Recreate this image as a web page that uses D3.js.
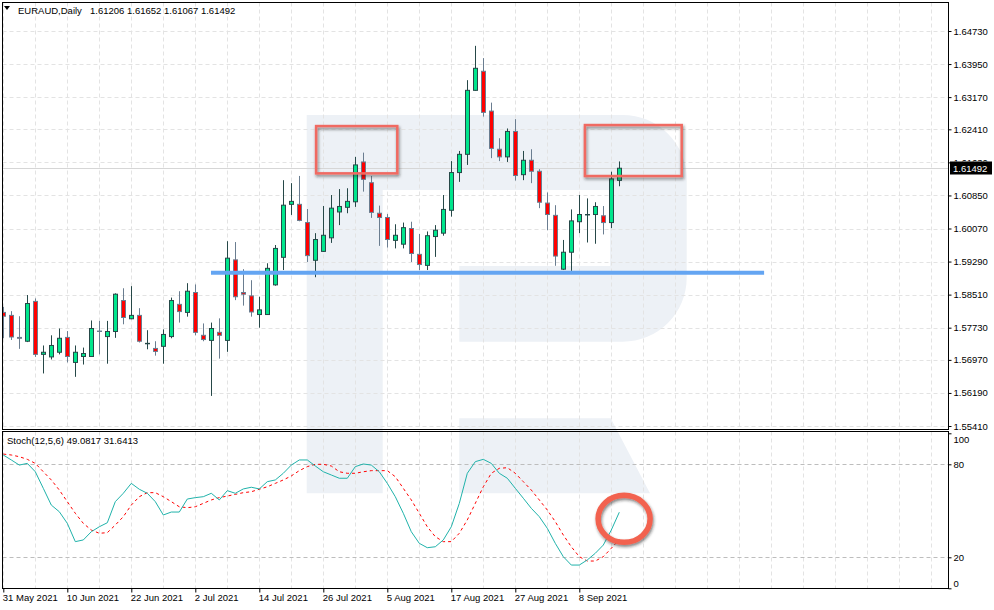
<!DOCTYPE html>
<html>
<head>
<meta charset="utf-8">
<script src="https://cdn.jsdelivr.net/npm/d3@7"></script>
<style>
  body { margin: 0; background: #fff; }
  svg text { font-family: "Liberation Sans", Arial, sans-serif; font-size: 9.5px; fill: #000; }
</style>
</head>
<body>
<svg id="chart" width="994" height="610"></svg>
<script>
// daily EURAUD bars, 31 May 2021 .. 15 Sep 2021
const opens = [1.5809, 1.5802, 1.5750, 1.5741, 1.5835, 1.5710, 1.5704, 1.5715, 1.5750, 1.5691,
  1.5705, 1.5705, 1.5765, 1.5752, 1.5764, 1.5837, 1.5794, 1.5802, 1.5735, 1.5724,
  1.5729, 1.5752, 1.5828, 1.5809, 1.5856, 1.5755, 1.5743, 1.5762, 1.5743, 1.5933,
  1.5856, 1.5848, 1.5804, 1.5804, 1.5874, 1.5939, 1.6064, 1.6064, 1.6021, 1.5932,
  1.5953, 1.5985, 1.6046, 1.6057, 1.6070, 1.6164, 1.6115, 1.6043, 1.6033, 1.5979,
  1.5970, 1.6007, 1.5946, 1.5920, 1.5988, 1.5996, 1.6050, 1.6139, 1.6182, 1.6333,
  1.6378, 1.6284, 1.6194, 1.6176, 1.6236, 1.6134, 1.6168, 1.6142, 1.6067, 1.6038,
  1.5911, 1.5951, 1.6023, 1.6039, 1.6040, 1.6037, 1.6021, 1.61206];
const highs = [1.5822, 1.5812, 1.5800, 1.5850, 1.5842, 1.5731, 1.5755, 1.5771, 1.5765, 1.5731,
  1.5726, 1.5790, 1.5789, 1.5789, 1.5854, 1.5866, 1.5871, 1.5819, 1.5767, 1.5741,
  1.5769, 1.5844, 1.5859, 1.5878, 1.5875, 1.5783, 1.5785, 1.5795, 1.5977, 1.5975,
  1.5911, 1.5885, 1.5846, 1.5925, 1.5968, 1.6121, 1.6114, 1.6131, 1.6053, 1.5996,
  1.6060, 1.6086, 1.6100, 1.6102, 1.6176, 1.6186, 1.6131, 1.6061, 1.6041, 1.6017,
  1.6021, 1.6023, 1.5994, 1.6000, 1.6015, 1.6086, 1.6166, 1.6190, 1.6357, 1.6438,
  1.6409, 1.6304, 1.6220, 1.6243, 1.6265, 1.6190, 1.6194, 1.6147, 1.6092, 1.6062,
  1.5980, 1.6052, 1.6086, 1.6078, 1.6069, 1.6060, 1.6141, 1.61652];
const lows = [1.5748, 1.5744, 1.5723, 1.5739, 1.5704, 1.5665, 1.5698, 1.5710, 1.5691, 1.5657,
  1.5686, 1.5704, 1.5710, 1.5688, 1.5749, 1.5781, 1.5793, 1.5738, 1.5722, 1.5707,
  1.5688, 1.5748, 1.5785, 1.5799, 1.5755, 1.5741, 1.5612, 1.5700, 1.5716, 1.5838,
  1.5825, 1.5799, 1.5773, 1.5803, 1.5872, 1.5909, 1.6039, 1.6024, 1.5928, 1.5892,
  1.5952, 1.5973, 1.6015, 1.6043, 1.6058, 1.6094, 1.6032, 1.5966, 1.5962, 1.5960,
  1.5960, 1.5928, 1.5909, 1.5909, 1.5940, 1.5990, 1.6035, 1.6117, 1.6157, 1.6332,
  1.6271, 1.6173, 1.6166, 1.6164, 1.6120, 1.6121, 1.6114, 1.6055, 1.6003, 1.5919,
  1.5909, 1.5907, 1.5996, 1.5974, 1.5971, 1.5993, 1.6008, 1.61067];
const closes = [1.5800, 1.5751, 1.5748, 1.5830, 1.5710, 1.5715, 1.5731, 1.5748, 1.5705, 1.5715,
  1.5712, 1.5771, 1.5764, 1.5764, 1.5852, 1.5797, 1.5802, 1.5741, 1.5736, 1.5717,
  1.5757, 1.5837, 1.5811, 1.5859, 1.5762, 1.5745, 1.5771, 1.5755, 1.5937, 1.5846,
  1.5852, 1.5810, 1.5815, 1.5913, 1.5960, 1.6062, 1.6071, 1.6026, 1.5943, 1.5981,
  1.5991, 1.6055, 1.6059, 1.6071, 1.6157, 1.6123, 1.6045, 1.6033, 1.5981, 1.5991,
  1.6009, 1.5948, 1.5922, 1.5990, 1.6003, 1.6052, 1.6139, 1.6182, 1.6333, 1.6385,
  1.6281, 1.6196, 1.6176, 1.6236, 1.6132, 1.6168, 1.6142, 1.6069, 1.6040, 1.5942,
  1.5951, 1.6025, 1.6040, 1.6040, 1.6059, 1.6021, 1.6124, 1.61492];

// Stochastic(12,5,6)
const stochMain = [86, 82.8, 79.5, 80.6, 75.2, 64.5, 53.7, 49.4, 41.9, 30.1,
  31.2, 36.5, 39.7, 42.3, 55.9, 61.3, 67.7, 63.9, 61.3, 55.9,
  47.3, 49.2, 49.2, 57.6, 58.5, 59.1, 61.3, 57.0, 63.0, 61.3,
  64.1, 65.2, 64.1, 68.8, 69.9, 74.2, 79.5, 82.8, 82.8, 78.9,
  75.2, 73.1, 71.0, 71.0, 78.5, 80.2, 79.5, 75.2, 67.7, 59.1,
  48.4, 36.5, 29.0, 26.2, 26.8, 31.2, 39.7, 54.8, 74.2, 81.7,
  83.2, 80.6, 74.2, 71.0, 64.5, 58.1, 51.6, 46.2, 38.7, 29.0,
  20.4, 15.0, 15.0, 18.3, 22.6, 27.9, 37.6, 49.0817];
const stochSignal = [86.6, 86, 84.9, 83.2, 80.6, 75.2, 69.9, 63.4, 55.9, 48.4,
  41.9, 37.6, 35.5, 35.9, 40.8, 46.2, 53.7, 59.1, 61.7, 61.7,
  59.1, 55.9, 52.6, 52.0, 52.6, 54.8, 57.0, 58.5, 59.5, 60.6,
  61.7, 62.3, 63.9, 65.5, 67.7, 69.9, 72.5, 75.9, 78.5, 80,
  80, 78.9, 75.2, 74.2, 74.2, 75.2, 75.9, 75.9, 75.9, 72.0,
  64.5, 57.0, 48.4, 39.7, 33.3, 30.1, 30.1, 35.5, 44.1, 54.8,
  65.5, 74.2, 77.4, 77.8, 74.2, 68.8, 63.4, 57.0, 50.5, 43.0,
  34.4, 26.8, 20.4, 17.6, 17.6, 20.4, 25.8, 31.6413];

const priceTicks = [1.64730, 1.63950, 1.63170, 1.62410, 1.61630, 1.60850, 1.60070,
  1.59290, 1.58510, 1.57730, 1.56970, 1.56190, 1.55410];
const dateTickIdx = [0, 8, 16, 24, 32, 40, 48, 56, 64, 72];
const dateLabels = ["31 May 2021", "10 Jun 2021", "22 Jun 2021", "2 Jul 2021", "14 Jul 2021",
  "26 Jul 2021", "5 Aug 2021", "17 Aug 2021", "27 Aug 2021", "8 Sep 2021"];
const stochTicks = [100, 80, 20, 0];
const stochLevels = [80, 20];

// annotations (bar index / price / stoch value)
const boxes = [
  { i0: 39.1, i1: 49.25, top: 1.62487, bottom: 1.61371 },
  { i0: 72.7, i1: 84.8, top: 1.62511, bottom: 1.61308 }
];
const support = { i0: 25.96, i1: 95.1, price: 1.59025 };
const ring = { i: 77.6, v: 44.8 };

const svg = d3.select("#chart");
const L = 2.5, R = 948.5, mainTop = 2.5, mainBottom = 429.5, subTop = 431.5, subBottom = 588.5;

const x = d3.scaleLinear().domain([0, 118]).range([3.3, 947.3]);
const y = d3.scaleLinear().domain([1.55410, 1.64730]).range([426, 31]);
const ys = d3.scaleLinear().domain([0, 100]).range([588.3, 433.3]);

const last = closes[closes.length - 1];
const tagTop = Math.round(y(last)) - 6.5;

svg.append("rect").attr("width", 994).attr("height", 610).attr("fill", "#fff");

const defs = svg.append("defs");
defs.append("clipPath").attr("id", "clipMain").append("rect")
  .attr("x", L).attr("y", mainTop).attr("width", R - L).attr("height", mainBottom - mainTop);
defs.append("clipPath").attr("id", "clipSub").append("rect")
  .attr("x", L).attr("y", subTop).attr("width", R - L).attr("height", subBottom - subTop);
const sh = defs.append("filter").attr("id", "shadow")
  .attr("x", "-20%").attr("y", "-20%").attr("width", "150%").attr("height", "160%");
sh.append("feDropShadow").attr("dx", 1).attr("dy", 2).attr("stdDeviation", 1.6)
  .attr("flood-color", "#222").attr("flood-opacity", 0.55);

// watermark logo
svg.append("path")
  .attr("fill", "#edf1f6")
  .attr("d", "M306.7,115 H622.7 A64,64 0 0 1 686.7,179 V277.7 A64,64 0 0 1 622.7,341.7 H459.3 V266 H610 V190 H382.7 V493.3 H306.7 Z" +
    " M459.3,418.3 H610.7 L650,493.3 H459.3 Z");

// grid
const grid = svg.append("g").attr("stroke", "#e3e3e3").attr("stroke-dasharray", "4,3");
const vIdx = d3.range(0, 118, 4);
grid.append("g").attr("clip-path", "url(#clipMain)").selectAll("line").data(vIdx).join("line")
  .attr("x1", (d) => Math.round(x(d)) + 0.5).attr("x2", (d) => Math.round(x(d)) + 0.5)
  .attr("y1", mainTop).attr("y2", mainBottom);
grid.append("g").selectAll("line").data(vIdx).join("line")
  .attr("x1", (d) => Math.round(x(d)) + 0.5).attr("x2", (d) => Math.round(x(d)) + 0.5)
  .attr("y1", subTop).attr("y2", subBottom);
grid.append("g").selectAll("line").data(priceTicks).join("line")
  .attr("x1", L).attr("x2", R)
  .attr("y1", (d) => Math.round(y(d)) + 0.5).attr("y2", (d) => Math.round(y(d)) + 0.5);

// stoch levels
svg.append("g").selectAll("line").data(stochLevels).join("line")
  .attr("x1", L).attr("x2", R)
  .attr("y1", (d) => Math.round(ys(d)) + 0.5).attr("y2", (d) => Math.round(ys(d)) + 0.5)
  .attr("stroke", "#bdbdbd").attr("stroke-dasharray", "4,3");

// current price line
svg.append("line").attr("x1", L).attr("x2", R)
  .attr("y1", Math.round(y(last)) + 0.5).attr("y2", Math.round(y(last)) + 0.5)
  .attr("stroke", "#d6d6d6");

// candles
const bars = d3.range(opens.length).map((i) => ({
  i, o: opens[i], h: highs[i], l: lows[i], c: closes[i]
}));
const cg = svg.append("g").attr("clip-path", "url(#clipMain)");
const candle = cg.selectAll("g").data(bars).join("g");
const edge = (d) => (d.c < d.o ? "#6a7d90" : "#264848");
candle.append("line")
  .attr("x1", (d) => Math.round(x(d.i)) + 0.5).attr("x2", (d) => Math.round(x(d.i)) + 0.5)
  .attr("y1", (d) => y(d.h)).attr("y2", (d) => y(d.l))
  .attr("stroke", edge);
candle.append("rect")
  .attr("x", (d) => Math.round(x(d.i)) - 1.5).attr("width", 4)
  .attr("y", (d) => Math.min(y(d.o), y(d.c)))
  .attr("height", (d) => Math.max(0.01, Math.abs(y(d.o) - y(d.c))))
  .attr("fill", (d) => (d.c >= d.o ? "#00e68c" : "#ff0000"))
  .attr("stroke", edge);

// support line
svg.append("line")
  .attr("x1", x(support.i0)).attr("x2", x(support.i1))
  .attr("y1", y(support.price)).attr("y2", y(support.price))
  .attr("stroke", "#64a5f2").attr("stroke-width", 4);

// resistance boxes
svg.append("g").selectAll("rect").data(boxes).join("rect")
  .attr("x", (d) => x(d.i0)).attr("y", (d) => y(d.top))
  .attr("width", (d) => x(d.i1) - x(d.i0)).attr("height", (d) => y(d.bottom) - y(d.top))
  .attr("fill", "none").attr("stroke", "#f06a62").attr("stroke-width", 2.5)
  .attr("filter", "url(#shadow)");

// stochastic lines
const sg = svg.append("g").attr("clip-path", "url(#clipSub)");
const line = d3.line().x((d, i) => x(i)).y((d) => ys(d));
sg.append("path").datum(stochSignal).attr("d", line)
  .attr("fill", "none").attr("stroke", "#ff0000").attr("stroke-dasharray", "3,3");
sg.append("path").datum(stochMain).attr("d", line)
  .attr("fill", "none").attr("stroke", "#20b2aa");

// ring annotation
svg.append("ellipse")
  .attr("cx", x(ring.i)).attr("cy", ys(ring.v)).attr("rx", 26).attr("ry", 23.5)
  .attr("fill", "none").attr("stroke", "#f2624f").attr("stroke-width", 5.5)
  .attr("filter", "url(#shadow)");

// panel borders
svg.append("rect").attr("x", L).attr("y", mainTop).attr("width", R - L).attr("height", mainBottom - mainTop)
  .attr("fill", "none").attr("stroke", "#000");
svg.append("rect").attr("x", L).attr("y", subTop).attr("width", R - L).attr("height", subBottom - subTop)
  .attr("fill", "none").attr("stroke", "#000");

// price axis
const pAxis = svg.append("g").attr("transform", `translate(${R},0)`)
  .call(d3.axisRight(y).tickValues(priceTicks).tickFormat(d3.format(".5f")).tickSize(3).tickPadding(2));
pAxis.select(".domain").remove();
pAxis.selectAll("text").attr("font-size", null).attr("font-family", null);

// the tick label sitting behind the price tag only shows its upper part
const hidden = priceTicks.filter((d) => Math.abs(y(d) - y(last)) < 12);
hidden.forEach((d, k) => {
  const id = "clipTag" + k;
  const ty = y(d) + 0.5;
  defs.append("clipPath").attr("id", id).append("rect")
    .attr("x", 0).attr("y", -20).attr("width", 50).attr("height", tagTop - ty + 20);
  pAxis.selectAll(".tick").filter((t) => t === d).select("text").attr("clip-path", `url(#${id})`);
});

// current price tag
svg.append("rect").attr("x", 950).attr("y", tagTop).attr("width", 42).attr("height", 13).attr("fill", "#000");
svg.append("text").attr("x", 953).attr("y", tagTop + 10.5).style("fill", "#fff").text(d3.format(".5f")(last));

// stoch axis
const sAxis = svg.append("g").attr("transform", `translate(${R},0)`)
  .call(d3.axisRight(ys).tickValues(stochTicks).tickSize(3).tickPadding(2));
sAxis.select(".domain").remove();
sAxis.selectAll("text").attr("font-size", null).attr("font-family", null)
  .attr("dy", (d) => (d === 100 ? "1.0em" : d === 0 ? "-0.2em" : "0.32em"));

// date axis
const dAxis = svg.append("g").attr("transform", `translate(0,${subBottom})`)
  .call(d3.axisBottom(x).tickValues(dateTickIdx).tickFormat((d, i) => dateLabels[i]).tickSize(4).tickPadding(2));
dAxis.select(".domain").remove();
dAxis.selectAll("text").attr("font-size", null).attr("font-family", null)
  .attr("text-anchor", "start").attr("x", -1);

// titles
svg.append("path").attr("d", "M4,6 L10,6 L7,10 Z").attr("fill", "#000");
svg.append("text").attr("x", 18).attr("y", 14).text("EURAUD,Daily");
svg.append("text").attr("x", 90).attr("y", 14)
  .text([opens, highs, lows, closes].map((a) => d3.format(".5f")(a[a.length - 1])).join(" "));
svg.append("text").attr("x", 7).attr("y", 444)
  .text(`Stoch(12,5,6) ${d3.format(".4f")(stochMain[stochMain.length - 1])} ${d3.format(".4f")(stochSignal[stochSignal.length - 1])}`);
</script>
</body>
</html>
